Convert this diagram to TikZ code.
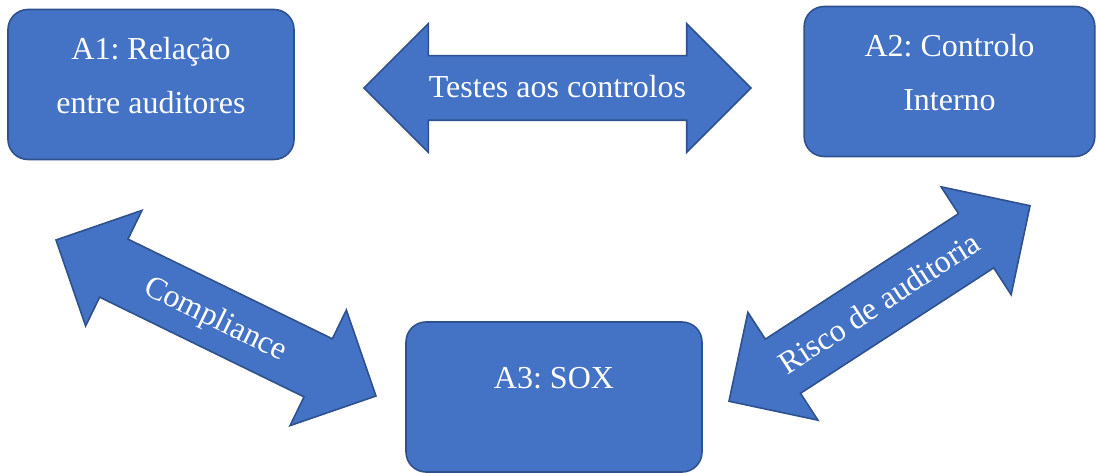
\documentclass[tikz,border=0pt]{standalone}
\usepackage{fontspec}
\setmainfont{Liberation Serif}
\usetikzlibrary{shapes.arrows}
\definecolor{areablue}{HTML}{4472C4}
\definecolor{areaedge}{HTML}{2F528F}
\frenchspacing
\begin{document}
\begin{tikzpicture}
    [x=0.75pt,y=-0.75pt,
    area/.style={rectangle,rounded corners=15pt,draw=areaedge,fill=areablue,line width=1.2pt,
        minimum width=218pt,minimum height=112.5pt,text=white,align=center,
        font=\fontsize{24}{40.5}\selectfont,text height=56.5pt,text depth=13.7pt},
    link/.style={double arrow,draw=areaedge,fill=areablue,line width=1.2pt,text=white,
        font=\fontsize{24}{29}\selectfont,double arrow tip angle=90,
        double arrow head extend=24pt,minimum width=95.25pt,
        text height=19pt,text depth=4pt,inner ysep=12.125pt,inner xsep=0pt}]

    \useasboundingbox (0,0) rectangle (1096,473);

    \node[area,minimum width=214.5pt] (a1) at (151,84.5) {A1: Relação\\entre auditores};
    \node[area] (a2) at (949.5,81.5) {A2: Controlo\\Interno};
    \node[area,minimum width=222pt,text height=16pt,text depth=28pt] (a3) at (554,397) {A3: SOX};

    \node[link,minimum height=290.25pt] (testes) at (557.5,88) {Testes aos controlos};
    \node[link,rotate=-26,minimum height=267pt] (compliance) at (216,318) {Compliance};
    \node[link,rotate=33,minimum height=269.25pt] (risco) at (879.5,303.5) {Risco de auditoria};
\end{tikzpicture}
\end{document}
